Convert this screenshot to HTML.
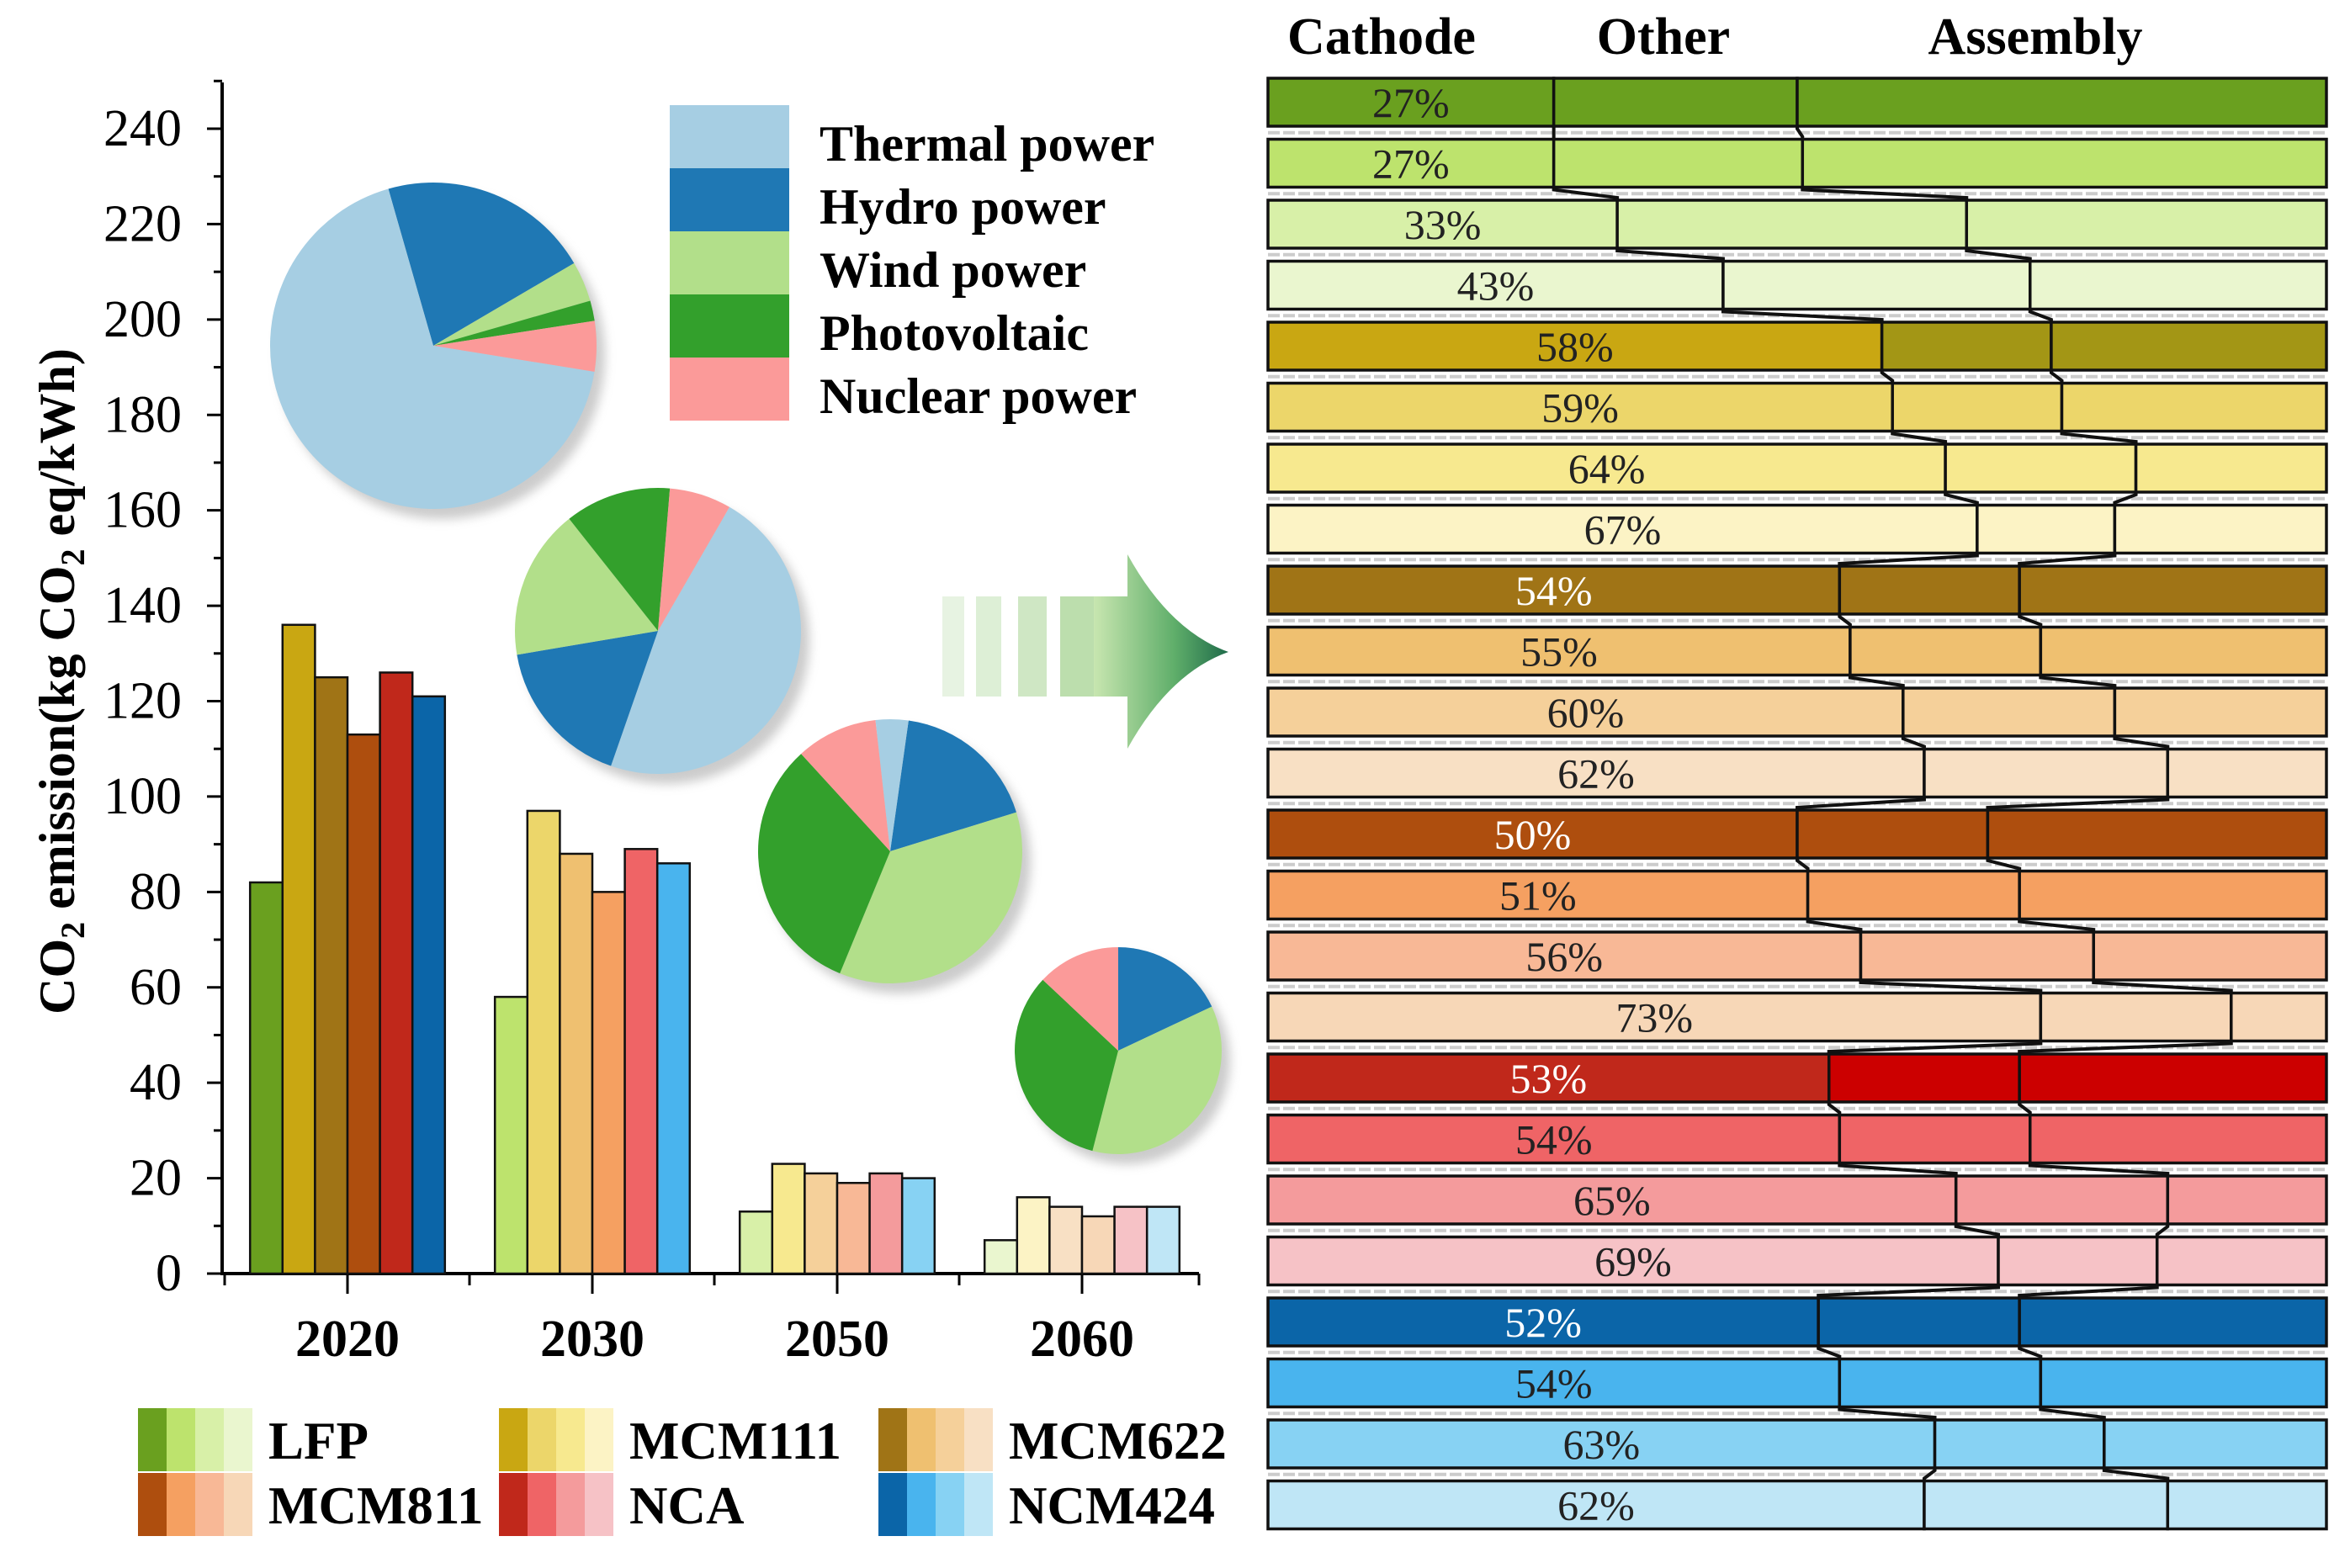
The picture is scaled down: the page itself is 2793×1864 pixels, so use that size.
<!DOCTYPE html>
<html><head><meta charset="utf-8"><style>
html,body{margin:0;padding:0;background:#fff;}
svg{display:block;font-family:"Liberation Serif",serif;}
</style></head><body>
<svg id="c" width="2793" height="1864" viewBox="0 0 2793 1864" xmlns="http://www.w3.org/2000/svg">
<defs>
<linearGradient id="ag" x1="0" x2="1" y1="0" y2="0"><stop offset="0" stop-color="#c8e6b0"/><stop offset="0.6" stop-color="#5fae6a"/><stop offset="1" stop-color="#1f6b4a"/></linearGradient>
<filter id="sh" x="-20%" y="-20%" width="140%" height="140%"><feGaussianBlur stdDeviation="6"/></filter>
</defs>
<g id="left"></g>
<g id="right"></g>
</svg>
<script>
const NS='http://www.w3.org/2000/svg';
const years=['2020','2030','2050','2060'];
const series=['LFP','MCM111','MCM622','MCM811','NCA','NCM424'];
const v2020=[82,136,125,113,126,121];
const v2030=[58,97,88,80,89,86];
const v2050=[13,23,21,19,21,20];
const v2060=[7,16,14,12,14,14];
const yTicks=[0,20,40,60,80,100,120,140,160,180,200,220,240];
const pieNames=['Thermal power','Hydro power','Wind power','Photovoltaic','Nuclear power'];
const pie2020=[68,21,4,2,5];
const pie2030=[47,17,17,12,7];
const pie2050=[4,18,36,32,10];
const pie2060=[0,18,36,33,13];
const cathodePct=[27,27,33,43,58,59,64,67,54,55,60,62,50,51,56,73,53,54,65,69,52,54,63,62];
const otherPct=[23,23.5,33,29,16,16,18,13,17,18,20,23,18,20,22,18,18,18,20,15,19,19,16,23];

const colors=[
 ['#6aa01f','#bde36d','#d8f0a8','#eaf6cf'],
 ['#c9a712','#ecd66a','#f7e98f','#fcf3c5'],
 ['#a07416','#efc070','#f5d09a','#f8e0c4'],
 ['#ae4e0e','#f5a061','#f8b896','#f7d7b7'],
 ['#c0281b','#ef6466','#f49b9c','#f6c2c6'],
 ['#0b65a8','#49b4ee','#87d2f3','#bfe6f6']];
const pieCol=['#a6cee3','#1f78b4','#b2df8a','#33a02c','#fb9a99'];
const vals=[v2020,v2030,v2050,v2060];
function el(tag,attrs,parent,text){const e=document.createElementNS(NS,tag);for(const k in attrs)e.setAttribute(k,attrs[k]);if(text!==undefined)e.textContent=text;parent.appendChild(e);return e;}
const L=document.getElementById('left'), R=document.getElementById('right');
const y0=1514,yTop=153,xL=264,xR=1425;
const yS=v=>y0-(v/240)*(y0-yTop);
const gC=i=>413+i*291;
let a=el('line',{x1:xL,y1:y0,x2:xR,y2:y0,stroke:'#000','stroke-width':4},L);

a=el('line',{x1:xL,y1:y0+2,x2:xL,y2:98,stroke:'#000','stroke-width':4},L);

for(let v=0;v<=250;v+=10){const y=yS(v);const maj=v%20===0;
 el('line',{x1:xL-(maj?18:10),y1:y,x2:xL,y2:y,stroke:'#000','stroke-width':3},L);}
yTicks.forEach(v=>{const t=el('text',{x:xL-48,y:yS(v)+20,'text-anchor':'end','font-size':62},L,String(v));
 });
years.forEach((yr,i)=>{el('line',{x1:gC(i),y1:y0,x2:gC(i),y2:y0+24,stroke:'#000','stroke-width':3},L);
 el('line',{x1:gC(i)-146,y1:y0,x2:gC(i)-146,y2:y0+14,stroke:'#000','stroke-width':3},L);
 const t=el('text',{x:gC(i),y:1612,'text-anchor':'middle','font-size':62,'font-weight':'bold'},L,yr);
 });
el('line',{x1:xR,y1:y0,x2:xR,y2:y0+14,stroke:'#000','stroke-width':3},L);
const yt=el('text',{transform:'translate(88,810) rotate(-90)','text-anchor':'middle','font-size':60,'font-weight':'bold'},L);

yt.innerHTML='CO<tspan font-size="40" dy="12">2</tspan><tspan dy="-12"> emission(kg CO</tspan><tspan font-size="40" dy="12">2</tspan><tspan dy="-12"> eq/kWh)</tspan>';
const bw=38.6;
vals.forEach((arr,g)=>{arr.forEach((v,s)=>{const x=gC(g)-3*bw+s*bw;
 const b=el('rect',{x:x,y:yS(v),width:bw,height:y0-yS(v),fill:colors[s][g],stroke:'#111','stroke-width':2.5},L);
 });});
function pieOrd(cx,cy,r,data,order,start,name){const g=el('g',{},L);
 el('circle',{cx:cx+10,cy:cy+12,r:r,fill:'#999',opacity:0.5,filter:'url(#sh)'},g);
 const tot=data.reduce((p,q)=>p+q,0);let ang=start*Math.PI/180;
 order.forEach(i=>{const d=data[i];if(d<=0)return;const a2=ang+d/tot*2*Math.PI;
  const p=el('path',{d:`M${cx},${cy} L${cx+r*Math.cos(ang)},${cy+r*Math.sin(ang)} A${r},${r} 0 ${a2-ang>Math.PI?1:0} 1 ${cx+r*Math.cos(a2)},${cy+r*Math.sin(a2)} Z`,fill:pieCol[i]},g);
  ang=a2;});}
pieOrd(515,411,194,pie2020,[1,2,3,4,0],-106,'pie-2020');
pieOrd(782,750,170,pie2030,[0,1,2,3,4],-60,'pie-2030');
pieOrd(1058,1012,157,pie2050,[1,2,3,4,0],-82,'pie-2050');
pieOrd(1329,1249,123,pie2060,[1,2,3,4,0],-90,'pie-2060');
pieNames.forEach((n,i)=>{const y=125+i*75;
 const r=el('rect',{x:796,y:y,width:142,height:75,fill:pieCol[i]},L);
 const t=el('text',{x:974,y:y+66,'font-size':60,'font-weight':'bold'},L,n);});
const ar=el('g',{},L);
[[1120,6,0.25],[1160,10,0.35],[1210,14,0.5],[1260,22,0.7]].forEach(s=>el('rect',{x:s[0],y:709,width:s[1]+20,height:119,fill:'#9fd08a',opacity:s[2]},ar));
el('path',{d:'M1300,709 L1340,709 L1340,659 Q1390,750 1460,775 Q1390,800 1340,890 L1340,828 L1300,828 Z',fill:'url(#ag)'},ar);
series.forEach((s,i)=>{const col=i%3,row=Math.floor(i/3);const x=[164,593,1044][col],y=1674+row*77;
 const g=el('g',{},L);
 colors[i].forEach((c,k)=>el('rect',{x:x+k*34,y:y,width:34,height:75,fill:c},g));
 el('text',{x:x+155,y:y+60,'font-size':63,'font-weight':'bold'},g,s);});
const px0=1507,px1=2765,pw=px1-px0,rowTop=93,pitch=72.5,rh=57;
[['Cathode',1642],['Other',1977],['Assembly',2419]].forEach(h=>{const t=el('text',{x:h[1],y:64,'text-anchor':'middle','font-size':62,'font-weight':'bold'},R,h[0]);});
const darkTxt=[8,12,16,20];
const bnds=cathodePct.map((c,i)=>[px0+pw*c/100,px0+pw*(c+otherPct[i])/100]);
cathodePct.forEach((c,i)=>{const s=Math.floor(i/4),k=i%4;const y=rowTop+i*pitch;
 const g=el('g',{},R);
 let oc=colors[s][k];if(i===4)oc='#a39615';if(i===16)oc='#cc0000';
 const [b1,b2]=bnds[i];
 el('rect',{x:px0,y:y,width:b1-px0,height:rh,fill:colors[s][k],stroke:'#111','stroke-width':3.5},g);
 el('rect',{x:b1,y:y,width:b2-b1,height:rh,fill:oc,stroke:'#111','stroke-width':3.5},g);
 el('rect',{x:b2,y:y,width:px1-b2,height:rh,fill:oc,stroke:'#111','stroke-width':3.5},g);
 el('text',{x:(px0+b1)/2,y:y+46,'text-anchor':'middle','font-size':50,fill:darkTxt.includes(i)?'#fff':'#222'},g,c+'%');
 if(i<23){const gy=y+rh+(pitch-rh)/2;
  el('line',{x1:px0,y1:gy,x2:px1,y2:gy,stroke:'#ccc','stroke-width':4,'stroke-dasharray':'14 4'},R);
  const n=bnds[i+1];
  el('path',{d:`M${b1},${y+rh} L${b1},${y+rh+3} L${n[0]},${y+pitch-3} L${n[0]},${y+pitch}`,fill:'none',stroke:'#111','stroke-width':4},R);
  el('path',{d:`M${b2},${y+rh} L${b2},${y+rh+3} L${n[1]},${y+pitch-3} L${n[1]},${y+pitch}`,fill:'none',stroke:'#111','stroke-width':4},R);}
});
</script>
</body></html>
